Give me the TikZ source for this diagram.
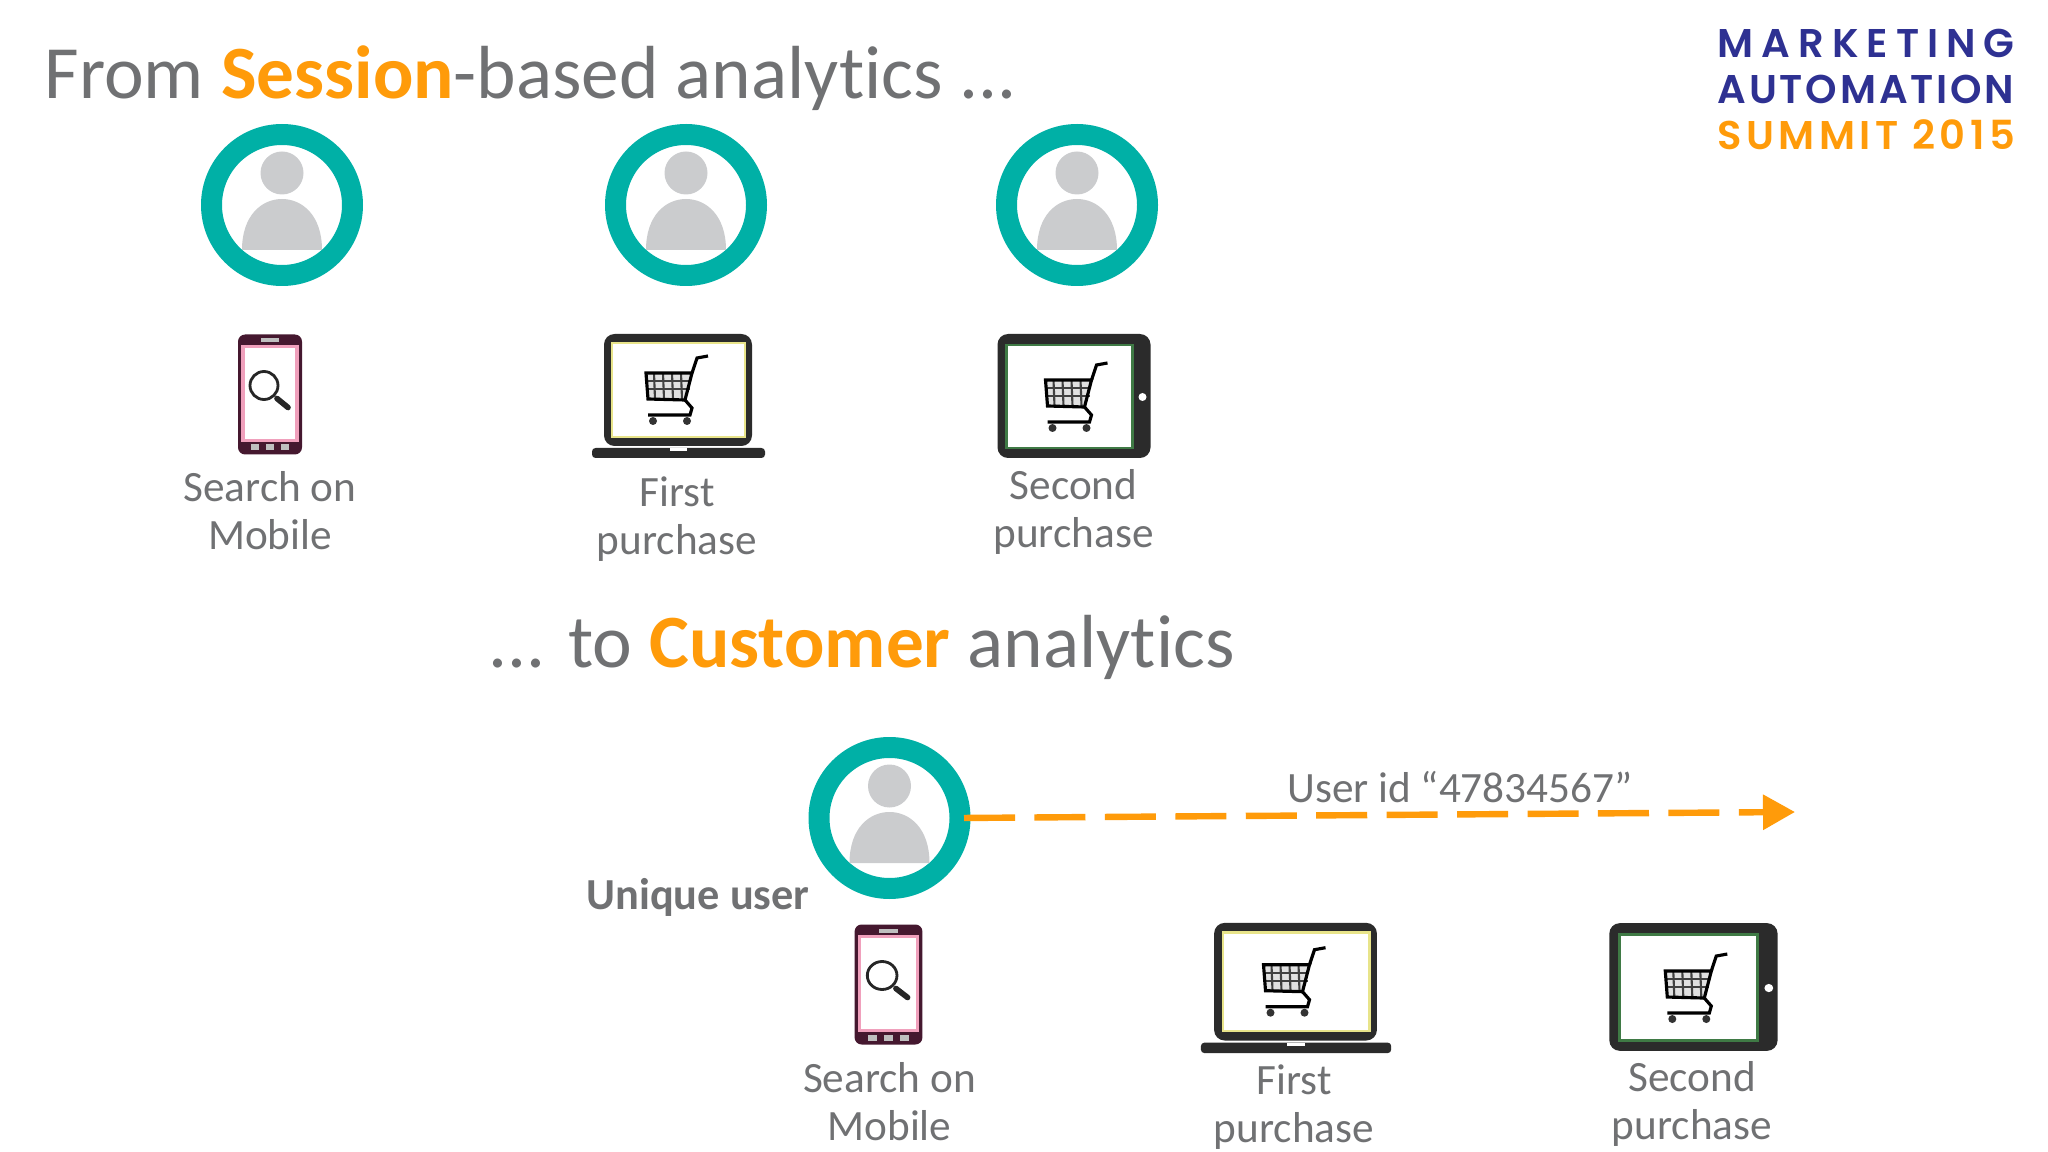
\documentclass[tikz,border=0pt]{standalone}
\usepackage{fontspec}
\usetikzlibrary{arrows.meta}
\setmainfont{Carlito}[Ligatures=NoCommon]
\newfontfamily\logofont{Poppins}[UprightFont=* SemiBold]
\definecolor{tealring}{HTML}{00B0A6}
\definecolor{greyperson}{HTML}{CBCCCE}
\definecolor{greytext}{HTML}{707173}
\definecolor{orangekey}{HTML}{FF9B0A}
\definecolor{navylogo}{HTML}{2E3192}
\definecolor{darkdevice}{HTML}{2B2B2B}
\definecolor{maroondevice}{HTML}{45182F}
\definecolor{pinkscreen}{HTML}{F0A0BC}
\definecolor{yellowscreen}{HTML}{E8E48A}
\definecolor{greenscreen}{HTML}{3F7A45}
\tikzset{
  ring/.style = {circle, draw = tealring, line width = 5.97pt, minimum size = 141*0.01cm, inner sep = 0pt, outer sep = 0pt},
  label/.style = {align = center, text = greytext, font = \fontsize{12.3}{13.7}\selectfont},
  heading/.style = {anchor = base west, text = greytext, inner sep = 0pt, font = \fontsize{21.4}{25}\selectfont},
  logoline/.style = {anchor = base west, inner sep = 0pt, font = \logofont\fontsize{11.4}{14}\selectfont},
  pics/person/.style = {code = {
    \fill [greyperson] (0,-32) circle [radius = 21.5];
    \fill [greyperson] (-40,45) .. controls (-40,10) and (-20,-6) .. (0,-6) .. controls (20,-6) and (40,10) .. (40,45) -- cycle;
  }},
  pics/cart/.style = {code = {
    \fill [black!12] (-32,-17) -- (14,-17) -- (7,10) -- (-30,9) -- cycle;
    \foreach \gx in {-24,-15,-6,3} \draw [line width = 0.6pt, black!75] (\gx,-17) -- (\gx+1,9);
    \foreach \gy in {-9,-1} \draw [line width = 0.6pt, black!75] (-32,\gy) -- (12,\gy);
    \draw [line width = 0.9pt] (-32,-17) -- (14,-17) -- (7,10) -- (-30,9) -- cycle;
    \draw [line width = 0.9pt] (14,-17) -- (19,-32) -- (30,-34);
    \draw [line width = 0.9pt] (7,10) -- (14,18) -- (12,25) -- (-30,25);
    \fill [black!80] (-25,31) circle [radius = 4];
    \fill [black!80] (9,31) circle [radius = 4];
  }},
  pics/mobile/.style = {code = {
    \fill [rounded corners = 2pt, fill = maroondevice] (-32,-60) rectangle (32,60);
    \draw [fill = white, draw = pinkscreen, line width = 0.9pt] (-27,-48) rectangle (27,46);
    \fill [black!25] (-9,-56) rectangle (9,-52);
    \foreach \bx in {-15,0,15} \fill [black!25] (\bx-4,50) rectangle (\bx+4,56);
    \draw [line width = 0.8pt, black!85] (-6,-9) circle [radius = 14];
    \draw [line width = 1.6pt, line cap = round, black!85] (7,4) -- (18,13);
  }},
  pics/laptop/.style = {code = {
    \fill [darkdevice, rounded corners = 3pt] (-74,-62) rectangle (74,50);
    \draw [fill = white, draw = yellowscreen, line width = 0.8pt] (-66,-53) rectangle (67,41);
    \fill [darkdevice, rounded corners = 1pt] (-86,52) rectangle (87,62);
    \fill [white] (-8,52) rectangle (9,55);
    \pic at (0,-6) {cart};
  }},
  pics/tablet/.style = {code = {
    \fill [darkdevice, rounded corners = 3pt] (-77,-62) rectangle (76,62);
    \draw [fill = white, draw = greenscreen, line width = 0.8pt] (-68,-51) rectangle (58,52);
    \fill [white] (68,1) circle [radius = 4];
    \pic at (3,1) {cart};
  }},
}
\begin{document}
\begin{tikzpicture}[x = 0.01cm, y = -0.01cm]
  \useasboundingbox (0,0) rectangle (2048,1152);

  % headings
  \node [heading] (title1) at (44,99) {From \textcolor{orangekey}{\textbf{Session}}-based analytics ...};
  \node [heading] (title2) at (488,667) {... to \textcolor{orangekey}{\textbf{Customer}} analytics};

  % logo
  \node [logoline, text = navylogo] (logo1) at (1717,58) {\addfontfeature{LetterSpace=20}MARKETING};
  \node [logoline, text = navylogo] (logo2) at (1717,104) {\addfontfeature{LetterSpace=7}AUTOMATION};
  \node [logoline, text = orangekey] (logo3) at (1717,150) {\addfontfeature{LetterSpace=11}SUMMIT 2015};

  % session based row
  \node [ring] (user1) at (282,205) {};
  \pic at (282,205) {person};
  \node [ring] (user2) at (686,205) {};
  \pic at (686,205) {person};
  \node [ring] (user3) at (1077,205) {};
  \pic at (1077,205) {person};

  \pic at (270,394.5) {mobile};
  \pic at (678,396) {laptop};
  \pic at (1074.5,396) {tablet};

  \node [label] (search1) at (270,511) {Search on\\Mobile};
  \node [label] (first1) at (677,519) {First\\purchase};
  \node [label] (second1) at (1073.5,512) {Second\\purchase};

  % customer row
  \node [ring] (user4) at (889.5,818) {};
  \pic at (889.5,818) {person};
  \node [label, font = \fontsize{12.6}{14}\selectfont\bfseries] (unique) at (698,897) {Unique user};

  \coordinate (idend) at (1795,812);
  \draw [orangekey, line width = 1.82pt, dash pattern = on 0.51cm off 0.194cm,
    -{Triangle[length = 0.32cm, width = 0.34cm]}, shorten < = 0.04cm] (user4.east) -- (idend);
  \node [label] (userid) at (1460,787) {User id “47834567”};

  \pic [xscale = 1.06] at (888.5,984.5) {mobile};
  \pic [xscale = 1.10, yscale = 1.05] at (1295.5,988) {laptop};
  \pic [xscale = 1.10, yscale = 1.03] at (1694,987) {tablet};

  \node [label] (search2) at (889.5,1102) {Search on\\Mobile};
  \node [label] (first2) at (1294,1107) {First\\purchase};
  \node [label] (second2) at (1692,1104) {Second\\purchase};
\end{tikzpicture}
\end{document}
